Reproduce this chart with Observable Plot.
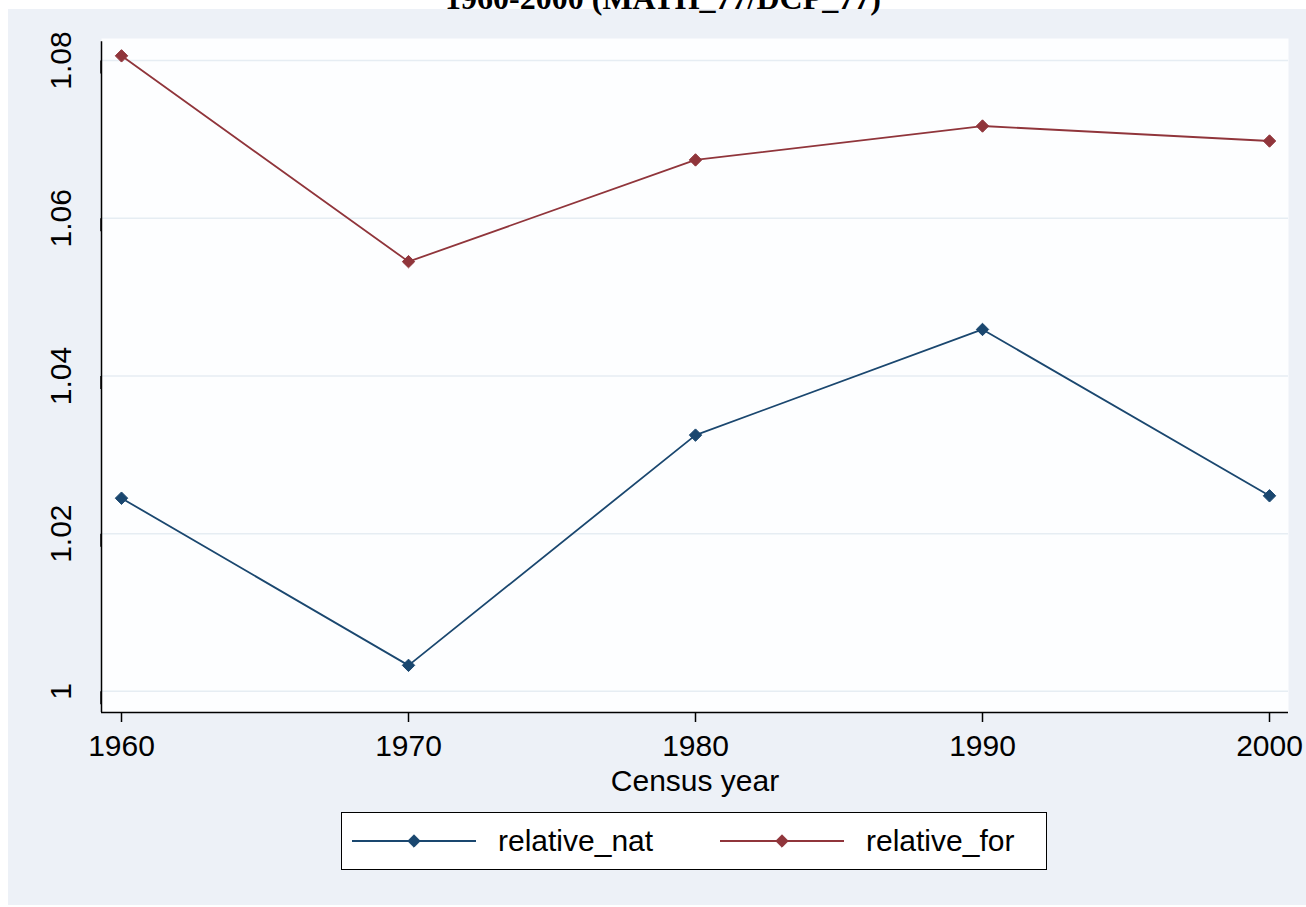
<!DOCTYPE html>
<html>
<head>
<meta charset="utf-8">
<script src="https://cdn.jsdelivr.net/npm/d3@7"></script>
<script src="https://cdn.jsdelivr.net/npm/@observablehq/plot@0.6"></script>
<style>
  html, body { margin: 0; padding: 0; background: #ffffff; }
  #page { position: relative; width: 1306px; height: 907px; overflow: hidden; background: #ffffff; }
  #region { position: absolute; left: 8px; top: 9px; width: 1298px; height: 896px; background: #edf1f7; }
  #title { position: absolute; left: 0; width: 1326px; top: -17px; text-align: center;
           font-family: "Liberation Serif", "Times New Roman", serif; font-weight: bold; font-size: 32px; line-height: 30px; color: #000; }
  #chart { position: absolute; left: 0; top: 0; }
  #legend { position: absolute; left: 341px; top: 812px; width: 704px; height: 56px; background: #ffffff;
            border: 1.5px solid #000; font-family: "Liberation Sans", Arial, sans-serif; font-size: 30px; }
  .item { position: absolute; top: 0; height: 56px; display: flex; align-items: center; }
  .item svg { display: block; }
  .item span { margin-left: 22px; }
</style>
</head>
<body>
<div id="page">
  <div id="region"></div>
  <div id="title"></div>
  <div id="chart"></div>
  <div id="legend"></div>
</div>
<script>
const titleText = "1960-2000 (MATH_77/DCP_77)";
const years = [1960, 1970, 1980, 1990, 2000];
const relativeNat = [1.0245, 1.0033, 1.0325, 1.0459, 1.0248];
const relativeFor = [1.0806, 1.0545, 1.0674, 1.0717, 1.0698];
const seriesNames = ["relative_nat", "relative_for"];
const seriesColors = ["#1a476f", "#90353b"];
const yTicks = [1.00, 1.02, 1.04, 1.06, 1.08];
const yTickLabels = ["1", "1.02", "1.04", "1.06", "1.08"];
const xLabel = "Census year";

document.getElementById("title").textContent = titleText;

const data = [];
years.forEach((yr, i) => {
  data.push({year: yr, value: relativeNat[i], series: seriesNames[0]});
  data.push({year: yr, value: relativeFor[i], series: seriesNames[1]});
});

const yMin = 0.99732, yMax = 1.0828;
const xMin = 1959.303, xMax = 2000.662;
const font = "'Liberation Sans', Arial, sans-serif";

const chart = Plot.plot({
  width: 1306,
  height: 800,
  marginTop: 38,
  marginBottom: 88,
  marginLeft: 101,
  marginRight: 18,
  style: {background: "transparent", fontFamily: font, fontSize: "30px", color: "#000"},
  x: {domain: [xMin, xMax]},
  y: {domain: [yMin, yMax]},
  color: {domain: seriesNames, range: seriesColors},
  marks: [
    Plot.frame({fill: "#fdfeff", stroke: "none"}),
    Plot.ruleY(yTicks, {stroke: "#e6edf3", strokeWidth: 1.5}),
    Plot.ruleX([xMin], {y1: yMin, y2: 1.0824, stroke: "#000", strokeWidth: 1.5}),
    Plot.ruleY([yMin], {stroke: "#000", strokeWidth: 1.5}),
    Plot.axisY({ticks: yTicks, tickFormat: (d) => yTickLabels[yTicks.indexOf(d)], tickSize: 13, tickPadding: 27,
                rotate: -90, textAnchor: "middle", label: null, stroke: "#000", strokeWidth: 1.5, fontSize: 30}),
    Plot.axisX({ticks: years, tickFormat: d => String(d), tickSize: 10, tickPadding: 12, fontSize: 30,
                stroke: "#000", strokeWidth: 1.5,
                label: xLabel, labelAnchor: "center", labelArrow: "none", labelOffset: 78}),
    Plot.line(data, {x: "year", y: "value", stroke: "series", strokeWidth: 1.8}),
    Plot.dot(data, {x: "year", y: "value", fill: "series", stroke: "series", symbol: "diamond2", r: 5.6, strokeWidth: 1})
  ]
});
document.getElementById("chart").appendChild(chart);

// legend
const legend = document.getElementById("legend");
const legendPos = [10, 378];
seriesNames.forEach((name, i) => {
  const div = document.createElement("div");
  div.className = "item";
  div.style.left = legendPos[i] + "px";
  const svg = d3.create("svg").attr("width", 124).attr("height", 20);
  svg.append("line").attr("x1", 0).attr("x2", 124).attr("y1", 10).attr("y2", 10)
     .attr("stroke", seriesColors[i]).attr("stroke-width", 1.8);
  svg.append("path").attr("transform", "translate(62,10)")
     .attr("d", d3.symbol(d3.symbolDiamond2, Math.PI * 5.6 * 5.6)())
     .attr("fill", seriesColors[i]).attr("stroke", seriesColors[i]);
  div.appendChild(svg.node());
  const span = document.createElement("span");
  span.textContent = name;
  div.appendChild(span);
  legend.appendChild(div);
});
</script>
</body>
</html>
